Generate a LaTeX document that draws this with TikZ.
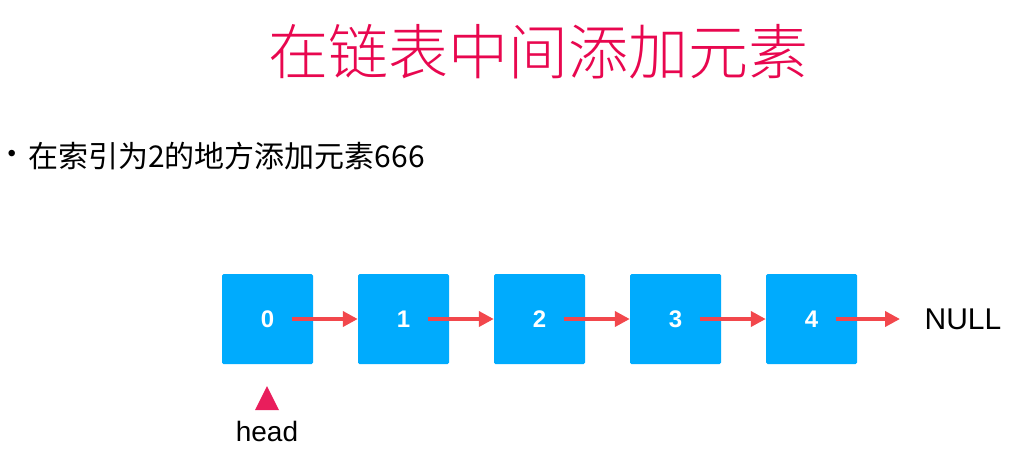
\documentclass[tikz,border=0pt]{standalone}
\usepackage{fontspec}
\setmainfont{Liberation Sans}
\newfontfamily\cjk{Noto Sans CJK SC Light}
\newfontfamily\cjkreg{Noto Sans CJK SC}
\usetikzlibrary{arrows.meta,positioning}
\definecolor{boxblue}{HTML}{00ABFD}
\definecolor{arrowred}{HTML}{F2474C}
\definecolor{titlered}{HTML}{E8074F}
\definecolor{headred}{HTML}{E91E5C}
\tikzset{
  listnode/.style={fill=boxblue, minimum width=91pt, minimum height=90pt,
    rounded corners=1.5pt, text=white, font=\fontsize{24}{24}\selectfont\bfseries},
  nextarrow/.style={arrowred, line width=4pt, -{Triangle[length=15pt,width=15pt]}}
}
\begin{document}
\begin{tikzpicture}[x=1pt,y=-1pt]
      \useasboundingbox (0,0) rectangle (1022,451);
      % title and bullet line
      \node[text=titlered, font=\cjk\fontsize{60}{60}\selectfont] (title) at (538,52) {在链表中间添加元素};
      \node[anchor=west, font=\fontsize{24}{24}\selectfont] (bullet) at (4,156) {•};
      \node[anchor=west, inner sep=0pt, font=\cjkreg\fontsize{30}{30}\selectfont] (task) at (28,156) {在索引为2的地方添加元素666};
      % the list
      \draw
        (267.5,319) node[listnode] (0){0}
        (403.5,319) node[listnode] (1){1}
        (539.5,319) node[listnode] (2){2}
        (675.5,319) node[listnode] (3){3}
        (811.5,319) node[listnode] (4){4}
        (963,319) node[font=\fontsize{30}{30}\selectfont] (null){NULL};
      \coordinate (nullend) at (900,319);
      \begin{scope}[nextarrow]
        \draw ([xshift=24pt]0.center) to (1.west);
        \draw ([xshift=24pt]1.center) to (2.west);
        \draw ([xshift=24pt]2.center) to (3.west);
        \draw ([xshift=24pt]3.center) to (4.west);
        \draw ([xshift=24pt]4.center) to (nullend);
      \end{scope}
      % head pointer
      \fill[headred] (255,410) coordinate (hl) -- (267,386) coordinate (ht) -- (279,410) coordinate (hr) -- cycle;
      \node[font=\fontsize{28}{28}\selectfont] (head) at (267,431) {head};
    \end{tikzpicture}
\end{document}
